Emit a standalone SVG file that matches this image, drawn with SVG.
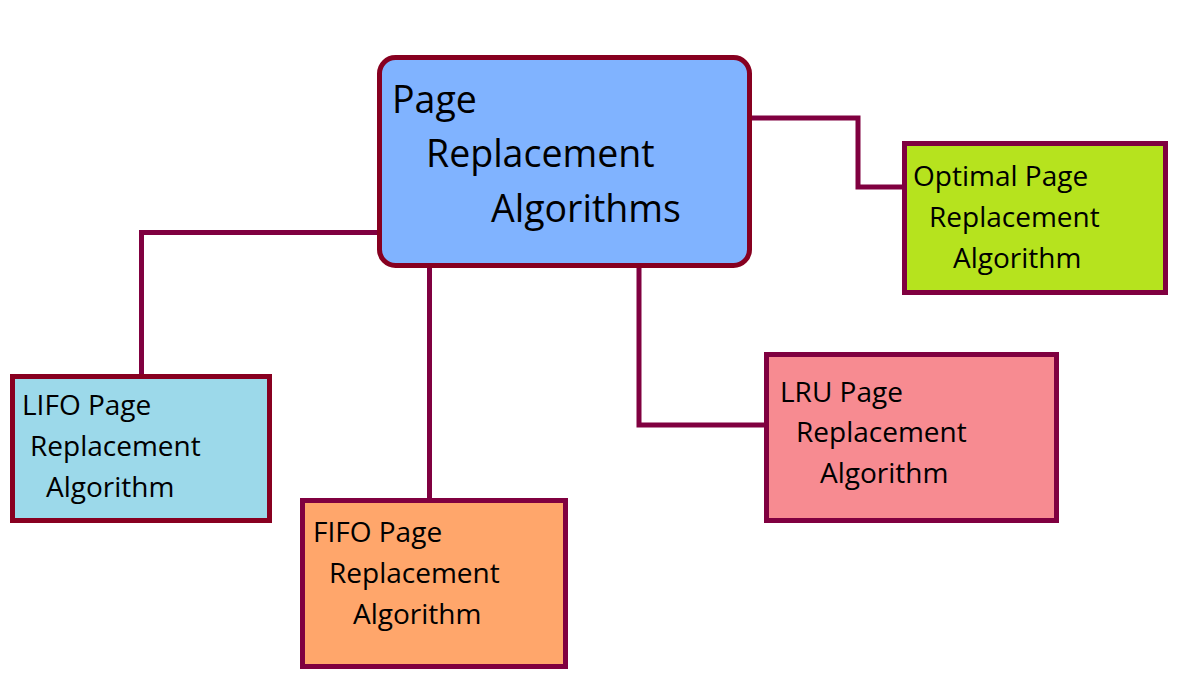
<svg xmlns="http://www.w3.org/2000/svg" width="1188" height="682" viewBox="0 0 1188 682">
<style>
text{font-family:"Open Sans","Noto Sans","Liberation Sans",sans-serif;fill:#000}
.main{font-size:37.5px}
.sub{font-size:28px}
.box{stroke-width:5}
.conn{fill:none;stroke:#800040;stroke-width:5}
</style>
<rect width="1188" height="682" fill="#fff"/>
<g id="connectors">
<polyline class="conn" points="750,118 858,118 858,187 906,187"/>
<polyline class="conn" points="380,232.5 141.5,232.5 141.5,378"/>
<line class="conn" x1="429.5" y1="266" x2="429.5" y2="502"/>
<polyline class="conn" points="639,266 639,425 768,425"/>
</g>
<g id="main">
<rect class="box" x="379.5" y="57.5" width="370" height="208" rx="16" fill="#80b3ff" stroke="#870020"/>
<text class="main" x="392" y="113">Page</text>
<text class="main" x="426" y="167">Replacement</text>
<text class="main" x="491" y="222">Algorithms</text>
</g>
<g id="optimal">
<rect class="box" x="904.5" y="143.5" width="261" height="149" fill="#b6e31e" stroke="#800040"/>
<text class="sub" x="913" y="186">Optimal Page</text>
<text class="sub" x="929" y="227">Replacement</text>
<text class="sub" x="953" y="268">Algorithm</text>
</g>
<g id="lifo">
<rect class="box" x="12.5" y="376.5" width="257" height="144" fill="#9cd9ea" stroke="#880020"/>
<text class="sub" x="22" y="415">LIFO Page</text>
<text class="sub" x="30" y="456">Replacement</text>
<text class="sub" x="46" y="497">Algorithm</text>
</g>
<g id="fifo">
<rect class="box" x="302.5" y="500.5" width="263" height="166" fill="#ffa66b" stroke="#800040"/>
<text class="sub" x="313" y="542">FIFO Page</text>
<text class="sub" x="329" y="583">Replacement</text>
<text class="sub" x="353" y="624">Algorithm</text>
</g>
<g id="lru">
<rect class="box" x="766.5" y="354.5" width="290" height="166" fill="#f78b91" stroke="#800040"/>
<text class="sub" x="780" y="402">LRU Page</text>
<text class="sub" x="796" y="442">Replacement</text>
<text class="sub" x="820" y="483">Algorithm</text>
</g>
</svg>
